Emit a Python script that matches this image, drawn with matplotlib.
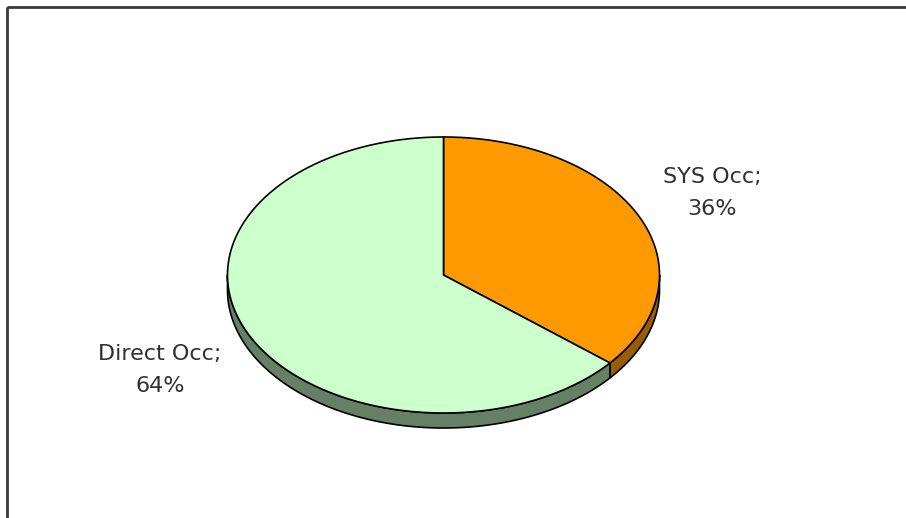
import numpy as np
import matplotlib
matplotlib.use("Agg")
import matplotlib.pyplot as plt
from matplotlib.patches import Polygon, Rectangle

categories = ["SYS Occ", "Direct Occ"]
values = [36, 64]
top_colors = ["#ff9900", "#ccffcc"]
side_colors = ["#9a5c00", "#668066"]

W, H = 906, 518
fig = plt.figure(figsize=(W / 100, H / 100), dpi=100)
ax = fig.add_axes([0, 0, 1, 1])
ax.set_xlim(0, W)
ax.set_ylim(H, 0)
ax.axis("off")

# chart frame
ax.add_patch(Rectangle((7, 7), 1000, 1000, fill=False, edgecolor="#3a3a3a", lw=2.0))

# tilted pie geometry
cx, cy = 443.5, 275.0
rx, ry = 216.0, 138.0
depth = 15.0


def ell(t):
    # t measured clockwise from 12 o'clock, radians
    return cx + rx * np.sin(t), cy - ry * np.cos(t)


fracs = np.array(values, dtype=float) / sum(values)
bounds = np.concatenate([[0], np.cumsum(fracs)]) * 2 * np.pi

# side walls (only the front half, pi/2 .. 3pi/2, is visible)
for i in range(len(values)):
    a0 = max(bounds[i], np.pi / 2)
    a1 = min(bounds[i + 1], 3 * np.pi / 2)
    if a1 <= a0:
        continue
    t = np.linspace(a0, a1, 200)
    x, y = ell(t)
    pts = np.column_stack([np.r_[x, x[::-1]], np.r_[y, y[::-1] + depth]])
    ax.add_patch(Polygon(pts, closed=True, facecolor=side_colors[i],
                         edgecolor="black", lw=1.2, joinstyle="round"))

# top faces
for i in range(len(values)):
    t = np.linspace(bounds[i], bounds[i + 1], 400)
    x, y = ell(t)
    pts = np.column_stack([np.r_[cx, x], np.r_[cy, y]])
    ax.add_patch(Polygon(pts, closed=True, facecolor=top_colors[i],
                         edgecolor="black", lw=1.2, joinstyle="round"))

# data labels
label_pos = [(712, 193), (160, 370)]
for name, v, (lx, ly) in zip(categories, values, label_pos):
    ax.text(lx, ly, f"{name};\n{v}%", ha="center", va="center",
            fontsize=16, color="#303030", family="DejaVu Sans",
            linespacing=1.75)

fig.savefig("out.png", dpi=100, facecolor="white")
